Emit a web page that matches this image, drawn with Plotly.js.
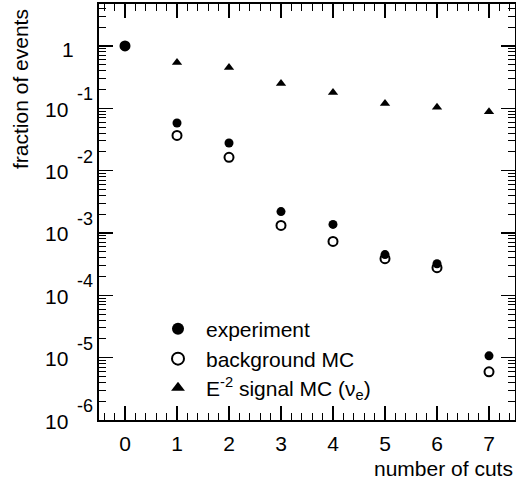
<!DOCTYPE html>
<html>
<head>
<meta charset="utf-8">
<script src="https://cdn.plot.ly/plotly-3.0.1.min.js"></script>
<style>html,body{margin:0;padding:0;background:#fff;}#chart{width:516px;height:483px;}</style>
</head>
<body>
<div id="chart"></div>
<script>
// ---- data ----
var cuts = [0, 1, 2, 3, 4, 5, 6, 7];
var experiment = [1, 0.058, 0.0277, 0.0022, 0.00137, 4.5e-4, 3.2e-4, 1.07e-5];
var backgroundMC = [1, 0.0367, 0.0163, 0.00132, 7.3e-4, 3.86e-4, 2.77e-4, 5.93e-6];
var signalMC = [1, 0.54, 0.45, 0.249, 0.179, 0.119, 0.104, 0.088];

var xTickVals = [0, 1, 2, 3, 4, 5, 6, 7];
var xTickText = ['0', '1', '2', '3', '4', '5', '6', '7'];
var yDecades = [1, 1e-1, 1e-2, 1e-3, 1e-4, 1e-5, 1e-6];
var yMantissa = ['1', '10', '10', '10', '10', '10', '10'];
var yExponent = ['', '-1', '-2', '-3', '-4', '-5', '-6'];

var FONT = 'Liberation Sans, Arial, Helvetica, sans-serif';

var traces = [
  {x: cuts, y: signalMC, name: 'E<sup>-2</sup> signal MC (ν<sub>e</sub>)', type: 'scatter', mode: 'markers',
   legend: 'legend3',
   marker: {symbol: 'triangle-up', size: 9, color: '#000'}},
  {x: cuts, y: backgroundMC, name: 'background MC', type: 'scatter', mode: 'markers',
   legend: 'legend2',
   marker: {symbol: 'circle-open', size: 9, color: '#000', line: {width: 2, color: '#000'}}},
  {x: cuts, y: experiment, name: 'experiment', type: 'scatter', mode: 'markers',
   legend: 'legend',
   marker: {symbol: 'circle', size: 9, color: '#000'}}
];

// plot area in px for paper conversions
var L = 99, R = 1, T = 4, B = 63, W = 516, H = 483;
var pw = W - L - R;
function px2paperX(p) { return (p - L) / pw; }
var ph = H - T - B;
function py2paperY(p) { return (H - B - p) / ph; }

var annotations = [];
for (var i = 0; i < yDecades.length; i++) {
  if (yExponent[i] === '') {
    annotations.push({xref: 'paper', yref: 'y', x: px2paperX(76), y: Math.log10(yDecades[i]),
      xanchor: 'right', yanchor: 'middle', yshift: -4, showarrow: false, text: yMantissa[i],
      font: {family: FONT, size: 21, color: '#000'}});
  } else {
    annotations.push({xref: 'paper', yref: 'y', x: px2paperX(70), y: Math.log10(yDecades[i]),
      xanchor: 'right', yanchor: 'middle', yshift: -1, showarrow: false, text: yMantissa[i],
      font: {family: FONT, size: 21, color: '#000'}});
    annotations.push({xref: 'paper', yref: 'y', x: px2paperX(75), y: Math.log10(yDecades[i]),
      xanchor: 'left', yanchor: 'middle', yshift: 14, showarrow: false, text: yExponent[i],
      font: {family: FONT, size: 18, color: '#000'}});
  }
}
annotations.push({xref: 'paper', yref: 'paper', x: px2paperX(20), y: py2paperY(89),
  xanchor: 'center', yanchor: 'middle', textangle: -90, showarrow: false, text: 'fraction of events',
  font: {family: FONT, size: 21, color: '#000'}});
annotations.push({xref: 'paper', yref: 'paper', x: px2paperX(515), y: py2paperY(468),
  xanchor: 'right', yanchor: 'middle', showarrow: false, text: 'number of cuts',
  font: {family: FONT, size: 21, color: '#000'}});

function legendAt(rowCenterPx) {
  return {x: px2paperX(150), y: py2paperY(rowCenterPx), xanchor: 'left', yanchor: 'middle',
    itemsizing: 'constant', itemwidth: 46,
    bgcolor: 'rgba(0,0,0,0)', borderwidth: 0, font: {family: FONT, size: 21, color: '#000'}};
}

var layout = {
  width: W, height: H,
  margin: {l: L, r: R, t: T, b: B, pad: 0},
  paper_bgcolor: '#fff', plot_bgcolor: '#fff',
  font: {family: FONT, size: 21, color: '#000'},
  showlegend: true,
  legend: legendAt(329),
  legend2: legendAt(359),
  legend3: legendAt(388),
  xaxis: {
    range: [-0.5, 7.5], tickmode: 'array', tickvals: xTickVals, ticktext: xTickText,
    ticks: 'inside', ticklen: 14, tickwidth: 1.5, tickcolor: '#000',
    showline: true, linewidth: 2, linecolor: '#000', mirror: 'allticks',
    showgrid: false, zeroline: false, ticklabelstandoff: 4,
    tickfont: {family: FONT, size: 21, color: '#000'},
    minor: {ticks: 'inside', ticklen: 7, tickwidth: 1, tickcolor: '#000', dtick: 0.2, tick0: 0, showgrid: false}
  },
  yaxis: {
    type: 'log', range: [-6, 0.672], tickmode: 'linear', tick0: 0, dtick: 1,
    ticks: 'inside', ticklen: 14, tickwidth: 1.5, tickcolor: '#000',
    showline: true, linewidth: 2, linecolor: '#000', mirror: 'allticks',
    showgrid: false, zeroline: false, showticklabels: false,
    minor: {ticks: 'inside', ticklen: 7, tickwidth: 1, tickcolor: '#000', dtick: 'D1', showgrid: false}
  },
  annotations: annotations
};

Plotly.newPlot('chart', traces, layout, {staticPlot: true, displayModeBar: false});
</script>
</body>
</html>
